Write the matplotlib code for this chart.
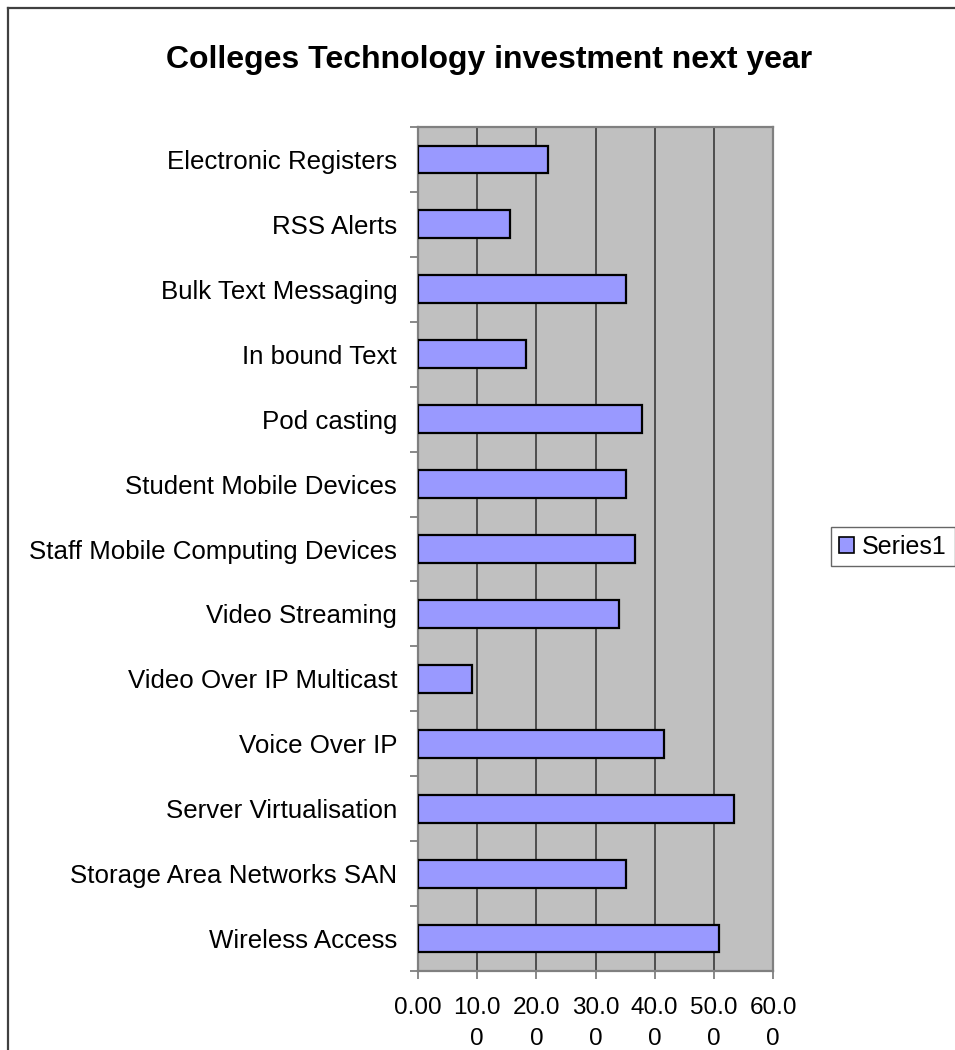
import numpy as np
import matplotlib
matplotlib.use("Agg")
import matplotlib.pyplot as plt
from matplotlib.lines import Line2D
from matplotlib.patches import Patch

# Survey results: share of colleges planning investment, top to bottom
categories = [
    "Electronic Registers", "RSS Alerts", "Bulk Text Messaging", "In bound Text",
    "Pod casting", "Student Mobile Devices", "Staff Mobile Computing Devices",
    "Video Streaming", "Video Over IP Multicast", "Voice Over IP",
    "Server Virtualisation", "Storage Area Networks SAN", "Wireless Access",
]
values = [22.0, 15.5, 35.1, 18.2, 37.9, 35.2, 36.6, 33.9, 9.1, 41.6, 53.4, 35.2, 50.8]
x_ticks = [0, 10, 20, 30, 40, 50, 60]
x_tick_labels = ["0.00", "10.0\n0", "20.0\n0", "30.0\n0", "40.0\n0", "50.0\n0", "60.0\n0"]
series_name = "Series1"

plt.rcParams["font.family"] = ["Liberation Sans", "DejaVu Sans"]

W, H = 955, 1050
fig = plt.figure(figsize=(W / 100, H / 100), dpi=100)
ax = fig.add_axes([418 / W, 1 - 971 / H, (773 - 418) / W, (971 - 127) / H])

n = len(categories)
pos = np.arange(n)[::-1]  # first category at the top
ax.set_facecolor("#C0C0C0")
ax.barh(pos, values, height=0.43, color="#9999FF", edgecolor="black",
        linewidth=1.6, zorder=3)

ax.set_xlim(0, 60)
ax.set_ylim(-0.5, n - 0.5)

# vertical gridlines at every major x tick
ax.set_xticks(x_ticks)
ax.set_xticklabels(x_tick_labels, fontsize=17.5, linespacing=1.5)
ax.grid(axis="x", color="#444444", linewidth=1.3, zorder=1)

# category labels centred on bars, tick marks between them
ax.set_yticks(pos)
ax.set_yticklabels(categories, fontsize=18.6)
ax.set_yticks(np.arange(-0.5, n, 1.0), minor=True)
ax.tick_params(axis="y", which="major", length=0, pad=15)
ax.tick_params(axis="y", which="minor", length=6, width=1.3, color="#808080")
ax.tick_params(axis="x", length=6, width=1.3, color="#808080", pad=13)

for s in ax.spines.values():
    s.set_color("#808080")
    s.set_linewidth(1.6)

fig.text(0.5 * (165 + 813) / W, 1 - 60 / H, "Colleges Technology investment next year",
         ha="center", va="center", fontsize=23, fontweight="bold")

handle = Patch(facecolor="#9999FF", edgecolor="black", linewidth=1.2)
fig.legend([handle], [series_name], loc="upper left",
           bbox_to_anchor=(831 / W, 1 - 527 / H), fontsize=18, frameon=True,
           fancybox=False, edgecolor="#404040", handlelength=0.6, handleheight=0.6,
           handletextpad=0.35, borderpad=0.3, borderaxespad=0)

# outer chart border (runs off the right and bottom edges)
fig.add_artist(Line2D([8 / W, 8 / W], [0, 1 - 8 / H], transform=fig.transFigure,
                      color="#404040", linewidth=1.6))
fig.add_artist(Line2D([8 / W, 1], [1 - 8 / H, 1 - 8 / H], transform=fig.transFigure,
                      color="#404040", linewidth=1.6))

fig.savefig("out.png", dpi=100, facecolor="white")
